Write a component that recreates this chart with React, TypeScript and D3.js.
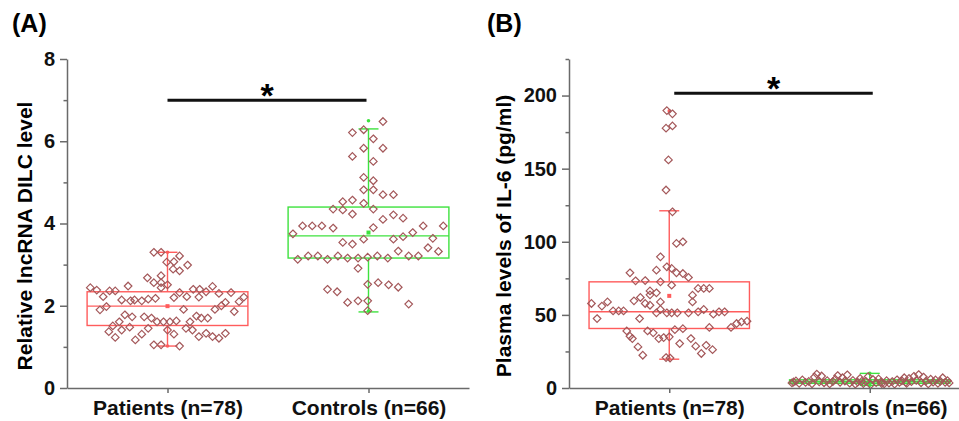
import React, { useEffect, useRef } from "react";
import * as d3 from "d3";

// categories and axis text
const categories = ["Patients (n=78)", "Controls (n=66)"];
const panelLabels = ["(A)", "(B)"];
const yTitles = ["Relative lncRNA DILC level", "Plasma levels of IL-6 (pg/ml)"];
const dilcTicks = [0, 2, 4, 6, 8];
const dilcMinor = [1, 3, 5, 7];
const il6Ticks = [0, 50, 100, 150, 200];
const il6Minor = [25, 75, 125, 175, 225];

// box statistics: [q1, median, q3, whiskerLow, whiskerHigh, mean, min, max]
const dilcStats = [
  [1.52, 1.99, 2.34, 1.02, 3.3, 1.99, 1.02, 3.3],
  [3.16, 3.7, 4.4, 1.85, 6.3, 3.78, 1.87, 6.5],
];
const il6Stats = [
  [40.7, 52.1, 72.6, 19.7, 121.2, 63.0, 19.7, 189.5],
  [3.2, 4.3, 5.6, 1.8, 10.0, 4.6, 1.8, 10.0],
];

// significance bar level
const sigLevels = [7.0, 201.5];

// individual points: [jitter (-1..1 of box half width), value]
const dilcPatients = [
  [-0.17, 3.3], [-0.08, 3.3], [0.15, 3.21], [-0.01, 3.06], [0.08, 3.07], [0.25, 2.99], [0.07, 2.89],
  [0.15, 2.85], [-0.25, 2.68], [-0.08, 2.73], [-0.17, 2.56], [-0.08, 2.56], [0.0, 2.51], [-0.08, 2.44],
  [-0.96, 2.44], [-0.88, 2.38], [-0.72, 2.36], [-0.65, 2.36], [-0.49, 2.48], [-0.8, 2.22], [-0.57, 2.14],
  [-0.41, 2.14], [-0.32, 2.12], [-0.24, 2.16], [-0.15, 2.18], [0.08, 2.2], [0.15, 2.32], [0.24, 2.22],
  [0.32, 2.4], [0.39, 2.21], [0.48, 2.34], [0.56, 2.47], [0.64, 2.3], [0.79, 2.32], [0.95, 2.21],
  [0.89, 2.1], [0.72, 2.08], [0.67, 2.0], [0.59, 1.91], [0.83, 1.86], [-0.84, 1.9], [-0.76, 1.98],
  [0.2, 1.91], [-0.53, 1.78], [-0.44, 1.73], [-0.29, 1.73], [-0.2, 1.7], [-0.13, 1.61], [-0.05, 1.61],
  [0.03, 1.61], [0.11, 1.63], [0.28, 1.61], [0.36, 1.75], [0.42, 1.7], [0.5, 1.7], [-0.6, 1.61],
  [-0.68, 1.51], [-0.73, 1.37], [-0.65, 1.23], [-0.57, 1.41], [-0.47, 1.48], [-0.4, 1.17], [-0.32, 1.31],
  [-0.24, 1.45], [0.0, 1.41], [0.08, 1.31], [0.23, 1.45], [0.31, 1.41], [0.39, 1.25], [0.48, 1.33],
  [0.56, 1.25], [0.64, 1.21], [0.72, 1.33], [-0.17, 1.05], [-0.08, 1.05], [0.15, 1.02], [-0.46, 2.12],
  [0.4, 2.4],
];
const dilcControls = [
  [0.18, 6.48], [-0.2, 6.21], [-0.06, 6.28], [0.06, 6.06], [-0.06, 5.83], [0.18, 5.83], [-0.2, 5.63],
  [0.06, 5.51], [-0.06, 5.12], [0.06, 5.04], [-0.06, 4.82], [0.06, 4.82], [0.18, 4.7], [0.31, 4.7],
  [-0.32, 4.53], [-0.2, 4.57], [-0.06, 4.49], [-0.44, 4.35], [-0.32, 4.33], [-0.2, 4.23], [0.06, 4.35],
  [0.31, 4.21], [0.43, 4.13], [0.18, 4.1], [0.68, 3.94], [0.93, 3.94], [0.55, 3.78], [-0.82, 3.94],
  [-0.7, 3.94], [-0.58, 3.94], [-0.44, 3.89], [-0.94, 3.75], [0.43, 3.68], [0.31, 3.62], [-0.06, 3.62],
  [-0.32, 3.54], [-0.2, 3.5], [0.8, 3.64], [0.74, 3.41], [0.87, 3.32], [0.37, 3.33], [-0.88, 3.13],
  [-0.75, 3.21], [-0.63, 3.21], [-0.51, 3.13], [-0.38, 3.21], [-0.26, 3.16], [-0.13, 3.16], [-0.01, 3.18],
  [0.11, 3.21], [0.24, 3.16], [0.5, 3.21], [0.62, 3.21], [-0.13, 2.91], [-0.01, 2.52], [0.12, 2.56],
  [0.25, 2.51], [0.37, 2.45], [-0.51, 2.4], [-0.39, 2.34], [-0.26, 2.08], [-0.13, 2.12], [-0.01, 2.12],
  [0.5, 2.04], [-0.01, 1.88], [0.06, 3.9],
];
const il6Patients = [
  [-0.03, 189.7], [0.04, 187.5], [-0.04, 177.7], [0.04, 179.2], [-0.01, 156], [-0.04, 135.4], [0.04, 120.5],
  [0.09, 98.9], [0.17, 100], [-0.11, 89.7], [-0.03, 82.9], [-0.16, 80.6], [0.03, 81.8], [0.09, 78.8],
  [0.17, 78.3], [0.24, 75.6], [-0.49, 78.8], [-0.42, 73.3], [-0.3, 73.5], [-0.11, 72.6], [0.03, 70.3],
  [0.36, 68.1], [0.43, 68.1], [0.5, 68.1], [-0.24, 66.4], [-0.16, 65.1], [-0.11, 58.9], [-0.36, 61.9],
  [-0.44, 59.6], [-0.3, 57.8], [-0.24, 56.6], [0.29, 63.5], [0.29, 58.9], [-0.97, 57.8], [-0.84, 56],
  [-0.77, 58.9], [-0.7, 52.7], [-0.63, 52.7], [-0.57, 52.7], [-0.9, 47.5], [-0.37, 47.5], [-0.16, 51.4],
  [-0.03, 51.4], [0.03, 51.4], [0.1, 51.4], [0.24, 51.4], [0.36, 52.1], [0.43, 53.7], [0.55, 50.5],
  [0.62, 52.1], [0.69, 52.1], [0.5, 41.4], [0.77, 41.4], [0.84, 44.1], [0.9, 45.2], [0.97, 45.7],
  [-0.53, 39.0], [-0.49, 35.4], [-0.27, 39.0], [-0.2, 37.7], [-0.46, 33.8], [-0.39, 28.1], [-0.33, 22.4],
  [-0.13, 33.8], [-0.07, 34.5], [0.0, 35.0], [0.07, 39.9], [0.17, 40.6], [0.13, 30.4], [0.27, 33.8],
  [0.33, 28.6], [0.4, 23.6], [0.46, 29.2], [0.54, 26.2], [-0.04, 20.8], [0.01, 20.5], [-0.11, 53.7],
  [-0.24, 63.7],
];
const il6Controls = [
  [-0.97, 3.5], [-0.92, 4.8], [-0.88, 3.2], [-0.84, 5.5], [-0.8, 3.8], [-0.76, 4.5], [-0.72, 2.9],
  [-0.69, 7.5], [-0.66, 9.5], [-0.63, 4.2], [-0.6, 8.2], [-0.57, 3.6], [-0.53, 5.0], [-0.5, 2.8],
  [-0.46, 4.4], [-0.43, 6.0], [-0.4, 8.5], [-0.37, 3.9], [-0.34, 7.0], [-0.31, 4.8], [-0.28, 9.0],
  [-0.25, 3.3], [-0.21, 5.2], [-0.18, 2.6], [-0.15, 4.0], [-0.12, 6.5], [-0.08, 3.0], [-0.05, 4.6],
  [-0.02, 7.8], [0.01, 2.2], [0.04, 5.8], [0.08, 3.7], [0.11, 6.2], [0.14, 4.1], [0.18, 2.9],
  [0.21, 5.0], [0.24, 3.4], [0.28, 4.4], [0.31, 2.7], [0.34, 5.6], [0.37, 3.8], [0.4, 4.9],
  [0.43, 7.0], [0.46, 3.1], [0.49, 6.5], [0.52, 4.3], [0.55, 8.0], [0.58, 5.2], [0.61, 9.2],
  [0.64, 3.6], [0.67, 7.5], [0.7, 4.7], [0.73, 2.8], [0.76, 6.0], [0.79, 4.0], [0.82, 5.5],
  [0.85, 3.2], [0.88, 4.6], [0.91, 7.0], [0.94, 3.9], [0.97, 5.0], [0.99, 3.5], [-0.95, 4.1],
  [0.15, 3.0], [0.45, 4.0], [-0.1, 4.5],
];

const FONT = "Arial, 'Liberation Sans', Helvetica, sans-serif";
const AXIS = "#6a6a6a";
const BOX_COLORS = ["#ff5c5c", "#3ee23e"];
const POINT_COLOR = "#a4585a";

const panels = [
  {
    label: panelLabels[0], title: yTitles[0], domain: [0, 8], ticks: dilcTicks, minor: dilcMinor,
    stats: dilcStats, points: [dilcPatients, dilcControls], sig: sigLevels[0],
    left: 67, right: 469, top: 59, labelX: 12, titleX: 32, sigShift: [0, -2],
  },
  {
    label: panelLabels[1], title: yTitles[1], domain: [0, 225], ticks: il6Ticks, minor: il6Minor,
    stats: il6Stats, points: [il6Patients, il6Controls], sig: sigLevels[1],
    left: 569, right: 970, top: 59, labelX: 487, titleX: 511, sigShift: [5, 3],
  },
];

const diamond = (r) => `M0,${-r}L${r},0L0,${r}L${-r},0Z`;

export default function App() {
  const svgRef = useRef(null);

  useEffect(() => {
    const svg = d3.select(svgRef.current);
    svg.selectAll("*").remove();
    const bottom = 388;

    panels.forEach((p) => {
      const g = svg.append("g");
      const y = d3.scaleLinear().domain(p.domain).range([bottom, p.top]);
      const x = d3.scalePoint().domain(categories).range([p.left, p.right]).padding(0.5);
      const half = x.step() * 0.4;

      // panel label
      g.append("text")
        .attr("x", p.labelX)
        .attr("y", 32)
        .attr("font-family", FONT)
        .attr("font-weight", "bold")
        .attr("font-size", 25)
        .text(p.label);

      // y title
      g.append("text")
        .attr("transform", `translate(${p.titleX},236) rotate(-90)`)
        .attr("text-anchor", "middle")
        .attr("font-family", FONT)
        .attr("font-weight", "bold")
        .attr("font-size", 21)
        .text(p.title);

      // boxes
      categories.forEach((c, i) => {
        const [q1, med, q3, lo, hi, mean, mn, mx] = p.stats[i];
        const cx = x(c);
        const col = BOX_COLORS[i];
        const b = g.append("g").attr("stroke", col).attr("stroke-width", 1.4).attr("fill", "none");
        b.append("rect")
          .attr("x", cx - half)
          .attr("y", y(q3))
          .attr("width", half * 2)
          .attr("height", y(q1) - y(q3));
        b.append("line").attr("x1", cx - half).attr("x2", cx + half).attr("y1", y(med)).attr("y2", y(med));
        b.append("line").attr("x1", cx).attr("x2", cx).attr("y1", y(q3)).attr("y2", y(hi));
        b.append("line").attr("x1", cx).attr("x2", cx).attr("y1", y(q1)).attr("y2", y(lo));
        b.append("line").attr("x1", cx - 10).attr("x2", cx + 10).attr("y1", y(hi)).attr("y2", y(hi));
        b.append("line").attr("x1", cx - 10).attr("x2", cx + 10).attr("y1", y(lo)).attr("y2", y(lo));
        g.append("rect")
          .attr("x", cx - 2)
          .attr("y", y(mean) - 2)
          .attr("width", 4)
          .attr("height", 4)
          .attr("fill", col);
        [mn, mx].forEach((v) => {
          g.append("circle").attr("cx", cx).attr("cy", y(v)).attr("r", 1.8).attr("fill", col);
        });

        // points
        g.append("g")
          .selectAll("path")
          .data(p.points[i])
          .join("path")
          .attr("d", diamond(3.8))
          .attr("transform", (d) => `translate(${cx + d[0] * half},${y(d[1])})`)
          .attr("fill", "none")
          .attr("stroke", POINT_COLOR)
          .attr("stroke-width", 1.2);
      });

      // y axis
      const ya = g
        .append("g")
        .attr("transform", `translate(${p.left},0)`)
        .call(d3.axisLeft(y).tickValues(p.ticks).tickSize(7).tickPadding(5).tickSizeOuter(0));
      ya.selectAll("path,line").attr("stroke", AXIS).attr("stroke-width", 1.5);
      ya.selectAll("text")
        .attr("font-family", FONT)
        .attr("font-weight", "bold")
        .attr("font-size", 20)
        .attr("fill", "#111");
      const ym = g
        .append("g")
        .attr("transform", `translate(${p.left},0)`)
        .call(d3.axisLeft(y).tickValues(p.minor).tickSize(3.5).tickFormat(() => ""));
      ym.select(".domain").remove();
      ym.selectAll("line").attr("stroke", AXIS).attr("stroke-width", 1.5);

      // x axis
      const xa = g
        .append("g")
        .attr("transform", `translate(0,${bottom})`)
        .call(d3.axisBottom(x).tickSize(5).tickPadding(7).tickSizeOuter(0));
      xa.selectAll("path,line").attr("stroke", AXIS).attr("stroke-width", 1.5);
      xa.selectAll("text")
        .attr("font-family", FONT)
        .attr("font-weight", "bold")
        .attr("font-size", 21)
        .attr("fill", "#111");

      // significance bar
      const x0 = x(categories[0]) + p.sigShift[0];
      const x1 = x(categories[1]) + p.sigShift[1];
      g.append("line")
        .attr("x1", x0)
        .attr("x2", x1)
        .attr("y1", y(p.sig))
        .attr("y2", y(p.sig))
        .attr("stroke", "#111")
        .attr("stroke-width", 3);
      g.append("text")
        .attr("x", (x0 + x1) / 2)
        .attr("y", y(p.sig) + 7)
        .attr("text-anchor", "middle")
        .attr("font-family", FONT)
        .attr("font-weight", "bold")
        .attr("font-size", 34)
        .text("*");
    });
  }, []);

  return (
    <svg
      ref={svgRef}
      width={959}
      height={421}
      style={{ position: "absolute", left: 0, top: 0, background: "#fff" }}
    />
  );
}
